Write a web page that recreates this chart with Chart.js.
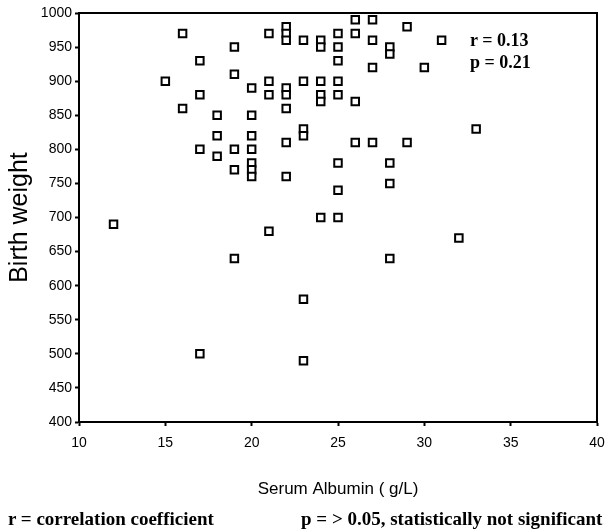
<!DOCTYPE html>
<html>
<head>
<meta charset="utf-8">
<script src="https://cdn.jsdelivr.net/npm/chart.js@4.4.0/dist/chart.umd.min.js"></script>
<style>
  html, body { margin: 0; padding: 0; background: #fff; }
  #wrap { position: relative; width: 606px; height: 529px; }
  #c { position: absolute; left: 0; top: 0; }
  .note { position: absolute; font-family: "Liberation Serif", serif; font-weight: bold; color: #000; white-space: nowrap; }
</style>
</head>
<body>
<div id="wrap">
  <canvas id="c" width="606" height="529"></canvas>
  <div class="note" style="left:470px; top:29px; font-size:18px; line-height:22px;">r = 0.13<br>p = 0.21</div>
  <div class="note" style="left:8px; top:508px; font-size:19px; line-height:21px;">r = correlation coefficient</div>
  <div class="note" style="left:301px; top:508px; font-size:19px; line-height:21px;">p = &gt; 0.05, statistically not significant</div>
</div>
<script>
// Serum albumin (g/L)
const albumin = [
  12, 15, 16, 16, 17, 17, 17, 17,
  18, 18, 18,
  19, 19, 19, 19, 19,
  20, 20, 20, 20, 20, 20, 20,
  21, 21, 21, 21,
  22, 22, 22, 22, 22, 22, 22, 22,
  23, 23, 23, 23, 23, 23,
  24, 24, 24, 24, 24, 24,
  25, 25, 25, 25, 25, 25, 25, 25,
  26, 26, 26, 26,
  27, 27, 27, 27,
  28, 28, 28, 28, 28,
  29, 29,
  30, 31, 32, 33
];
// Birth weight
const birthWeight = [
  690, 900, 970, 860, 930, 880, 800, 500,
  850, 820, 790,
  950, 910, 800, 770, 640,
  890, 850, 820, 800, 780, 770, 760,
  970, 900, 880, 680,
  980, 970, 960, 890, 880, 860, 810, 760,
  960, 900, 830, 820, 580, 490,
  960, 950, 900, 880, 870, 700,
  970, 950, 930, 900, 880, 780, 740, 700,
  990, 970, 870, 810,
  990, 960, 920, 810,
  950, 940, 780, 750, 640,
  980, 810,
  920, 960, 670, 830
];
const xTitle = "Serum Albumin ( g/L)";
const yTitle = "Birth weight";

const points = albumin.map((x, i) => ({ x: x, y: birthWeight[i] }));

const framePlugin = {
  id: 'frame',
  afterDraw(chart) {
    const a = chart.chartArea;
    const ctx = chart.ctx;
    ctx.save();
    ctx.strokeStyle = '#000';
    ctx.lineWidth = 2;
    ctx.beginPath();
    ctx.moveTo(a.left, a.top);
    ctx.lineTo(a.right, a.top);
    ctx.lineTo(a.right, a.bottom);
    ctx.stroke();
    ctx.restore();
  }
};

new Chart(document.getElementById('c'), {
  type: 'scatter',
  data: {
    datasets: [{
      data: points,
      pointStyle: 'rect',
      pointRadius: 5.3,
      pointHoverRadius: 5.3,
      borderWidth: 2,
      borderColor: '#000',
      backgroundColor: '#fff'
    }]
  },
  options: {
    responsive: false,
    animation: false,
    devicePixelRatio: 1,
    layout: { padding: { left: 0, right: 0, top: 13, bottom: 0 } },
    plugins: { legend: { display: false }, tooltip: { enabled: false } },
    scales: {
      x: {
        type: 'linear',
        min: 10, max: 40,
        afterFit(s) { s.height = 107; s.paddingRight = 9; },
        ticks: { stepSize: 5, color: '#000', padding: 9, font: { family: 'Liberation Sans', size: 14 }, callback: v => String(v) },
        grid: { drawOnChartArea: false, drawTicks: true, tickLength: 4, tickWidth: 2, tickColor: '#000' },
        border: { display: true, color: '#000', width: 2 },
        title: { display: true, text: xTitle, color: '#000', font: { family: 'Liberation Sans', size: 17 }, padding: { top: 0, bottom: 29 } }
      },
      y: {
        type: 'linear',
        min: 400, max: 1000,
        afterFit(s) { s.width = 79; },
        ticks: { stepSize: 50, color: '#000', padding: 3, font: { family: 'Liberation Sans', size: 14 }, callback: v => String(v) },
        grid: { drawOnChartArea: false, drawTicks: true, tickLength: 4, tickWidth: 2, tickColor: '#000' },
        border: { display: true, color: '#000', width: 2 },
        title: { display: true, text: yTitle, color: '#000', font: { family: 'Liberation Sans', size: 25 }, padding: { top: 5, bottom: 0 } }
      }
    }
  },
  plugins: [framePlugin]
});
</script>
</body>
</html>
